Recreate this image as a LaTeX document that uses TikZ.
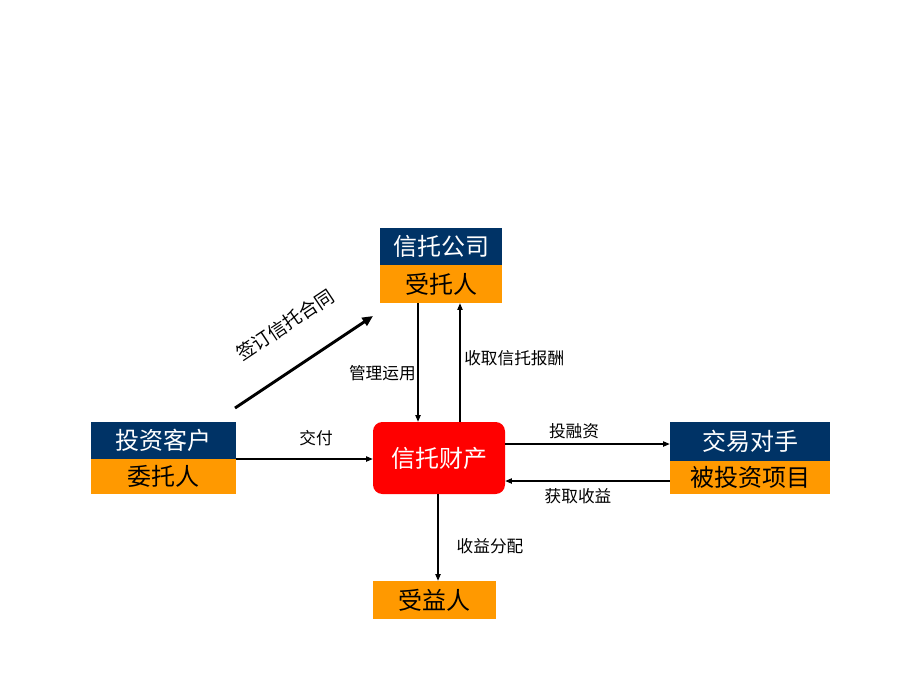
\documentclass[tikz,border=0pt]{standalone}
\usepackage{fontspec}
\newfontfamily\cjk{Noto Sans CJK SC}
\usetikzlibrary{arrows.meta}
\definecolor{navy}{RGB}{0,51,102}
\definecolor{orng}{RGB}{255,153,0}
\definecolor{redbox}{RGB}{255,0,0}
\begin{document}
\begin{tikzpicture}[x=0.75pt,y=-0.75pt,
  top/.style={fill=navy,text=white,inner sep=0pt,font=\cjk\fontsize{18}{18}\selectfont},
  bot/.style={fill=orng,text=black,inner sep=0pt,font=\cjk\fontsize{18}{18}\selectfont},
  lbl/.style={font=\cjk\fontsize{12.5}{12.5}\selectfont,inner sep=0pt},
  arr/.style={line width=0.8pt,-{Triangle[length=5pt,width=4pt]}},
  bigarr/.style={line width=2.2pt,-{Triangle[length=8pt,width=7pt]}}]
\useasboundingbox[fill=white] (0,0) rectangle (920,690);
% trust company
\node[top,minimum width=91.5pt,minimum height=27.75pt] (tcT) at (441,246.5) {信托公司};
\node[bot,minimum width=91.5pt,minimum height=28.5pt] (tcB) at (441,284) {受托人};
% investor
\node[top,minimum width=108.75pt,minimum height=27.75pt] (invT) at (163.5,440.5) {投资客户};
\node[bot,minimum width=108.75pt,minimum height=26.25pt] (invB) at (163.5,476.5) {委托人};
% trust property
\node[fill=redbox,text=white,rounded corners=7pt,inner sep=0pt,minimum width=99pt,minimum height=54pt,font=\cjk\fontsize{18}{18}\selectfont] (tp) at (439,458) {信托财产};
% counterparty
\node[top,minimum width=120pt,minimum height=29.25pt] (cpT) at (750,441.5) {交易对手};
\node[bot,minimum width=120pt,minimum height=24.75pt] (cpB) at (750,477.5) {被投资项目};
% beneficiary
\node[bot,minimum width=92.25pt,minimum height=28.5pt] (ben) at (434.5,600) {受益人};
% helper coordinates
\coordinate (xm) at (418,0);
\coordinate (xr) at (460,0);
\coordinate (xb) at (438,0);
\coordinate (yj) at (0,459);
\coordinate (yt) at (0,444);
\coordinate (yg) at (0,481);
\coordinate (s0) at (235,408);
\coordinate (s1) at (373,316);
% connectors
\draw[bigarr] (s0) -- (s1);
\node[lbl,rotate=33.7,font=\cjk\fontsize{14}{14}\selectfont] (lsign) at (285,325) {签订信托合同};
\draw[arr] (tcB.south -| xm) -- (tp.north -| xm);
\node[lbl,anchor=east] (lmgmt) at (416,373) {管理运用};
\draw[arr] (tp.north -| xr) -- (tcB.south -| xr);
\node[lbl,anchor=west] (lfee) at (464,358) {收取信托报酬};
\draw[arr] (invB.north east |- yj) -- (tp.west |- yj);
\node[lbl] (ldel) at (316,438) {交付};
\draw[arr] (tp.east |- yt) -- (cpT.west |- yt);
\node[lbl] (linv) at (574,431) {投融资};
\draw[arr] (cpB.west |- yg) -- (tp.east |- yg);
\node[lbl] (lgain) at (578,496) {获取收益};
\draw[arr] (tp.south -| xb) -- (ben.north -| xb);
\node[lbl] (ldist) at (490,546) {收益分配};
\end{tikzpicture}
\end{document}
